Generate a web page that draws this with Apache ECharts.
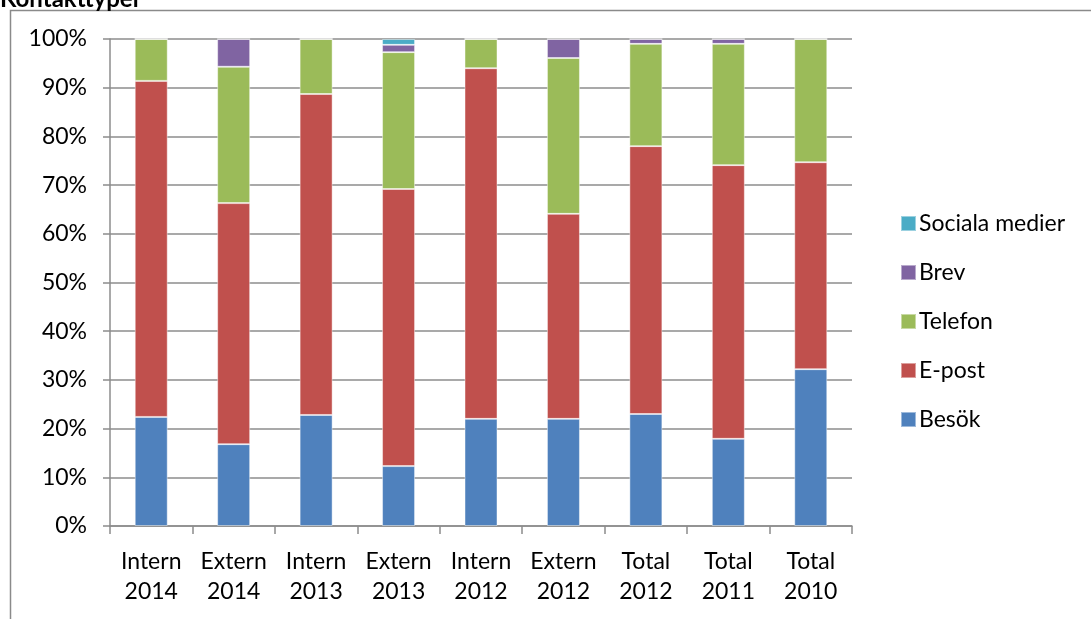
<!DOCTYPE html>
<html>
<head>
<meta charset="utf-8">
<script src="https://cdn.jsdelivr.net/npm/echarts@6/dist/echarts.min.js"></script>
<style>
  html, body { margin: 0; padding: 0; background: #fff; }
  #chart { width: 1091px; height: 619px; }
</style>
</head>
<body>
<div id="chart"></div>
<script>
// Kontakttyper: share of contacts per channel (percent of total)
const categories = ['Intern\n2014', 'Extern\n2014', 'Intern\n2013', 'Extern\n2013', 'Intern\n2012',
                    'Extern\n2012', 'Total\n2012', 'Total\n2011', 'Total\n2010'];
const besok    = [22.4, 16.8, 22.8, 12.3, 22.0, 22.0, 23.0, 17.9, 32.2];
const epost    = [69.0, 49.5, 65.9, 56.9, 72.0, 42.1, 55.0, 56.2, 42.5];
const telefon  = [ 8.6, 28.0, 11.3, 28.1,  6.0, 32.0, 21.0, 24.9, 25.3];
const brev     = [ 0.0,  5.7,  0.0,  1.5,  0.0,  3.9,  1.0,  1.0,  0.0];
const sociala  = [ 0.0,  0.0,  0.0,  1.2,  0.0,  0.0,  0.0,  0.0,  0.0];
const yTicks   = ['0%', '10%', '20%', '30%', '40%', '50%', '60%', '70%', '80%', '90%', '100%'];

const FONT = 'Lato, "Open Sans", sans-serif';
const gridColor = '#8c8c8c';

const chart = echarts.init(document.getElementById('chart'), null, { renderer: 'canvas' });

function barSeries(name, data, color) {
  return {
    name: name,
    type: 'bar',
    stack: 'total',
    data: data,
    barWidth: 33,
    itemStyle: { color: color, borderColor: 'rgba(255,255,255,0.45)', borderWidth: 1 },
    emphasis: { disabled: true }
  };
}

chart.setOption({
  animation: false,
  backgroundColor: '#ffffff',
  graphic: [
    {
      type: 'polyline',
      shape: { points: [[10.5, 619], [10.5, 10.5], [1091, 10.5]] },
      style: { stroke: '#8a8a8a', lineWidth: 1.5, fill: null },
      silent: true
    },
    {
      type: 'text',
      left: 0,
      top: -13,
      style: { text: 'Kontakttyper', font: 'bold 24px ' + FONT, fill: '#000' },
      silent: true
    }
  ],
  grid: { left: 110, right: 239, top: 39, bottom: 93, containLabel: false },
  legend: {
    orient: 'vertical',
    left: 895,
    top: 207,
    itemWidth: 15,
    itemHeight: 15,
    itemGap: 26,
    icon: 'rect',
    textStyle: { fontFamily: FONT, fontSize: 23, color: '#000', padding: [0, 0, 0, -2] },
    data: ['Sociala medier', 'Brev', 'Telefon', 'E-post', 'Besök']
  },
  xAxis: {
    type: 'category',
    data: categories,
    boundaryGap: true,
    axisLine: { lineStyle: { color: gridColor, width: 1.5 } },
    axisTick: { show: true, alignWithLabel: false, length: 8, lineStyle: { color: gridColor, width: 1.5 } },
    axisLabel: {
      fontFamily: FONT, fontSize: 23, color: '#000', lineHeight: 30, margin: 21,
      interval: 0
    }
  },
  yAxis: {
    type: 'value',
    min: 0,
    max: 100,
    interval: 10,
    axisLine: { show: true, lineStyle: { color: gridColor, width: 1.5 } },
    axisTick: { show: true, length: 7, lineStyle: { color: gridColor, width: 1.5 } },
    splitLine: { show: true, lineStyle: { color: gridColor, width: 1.5 } },
    axisLabel: {
      fontFamily: FONT, fontSize: 23, color: '#000', margin: 23,
      formatter: function (v) { return yTicks[Math.round(v / 10)]; }
    }
  },
  series: [
    barSeries('Besök', besok, '#4F81BD'),
    barSeries('E-post', epost, '#C0504D'),
    barSeries('Telefon', telefon, '#9BBB59'),
    barSeries('Brev', brev, '#8064A2'),
    barSeries('Sociala medier', sociala, '#4BACC6')
  ]
});
</script>
</body>
</html>
